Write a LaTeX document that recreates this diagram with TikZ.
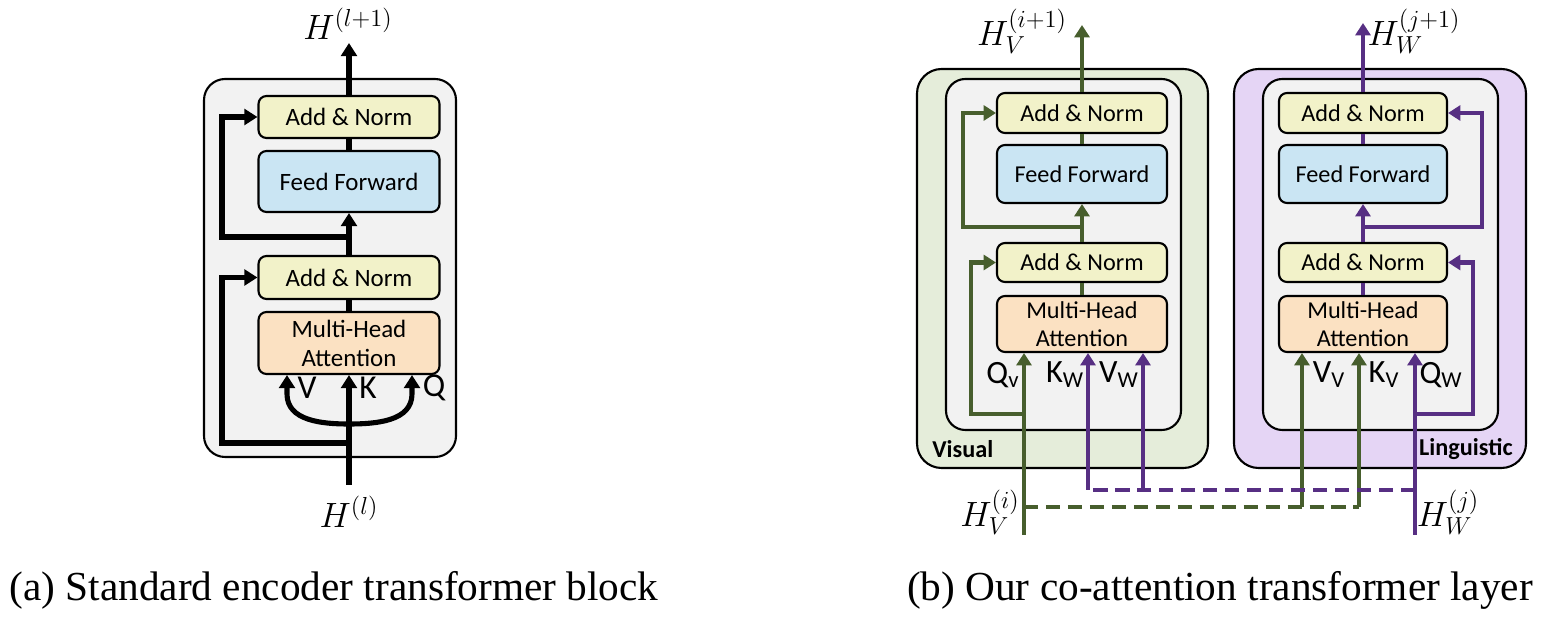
\RequirePackage{fix-cm}
\documentclass[tikz,border=0pt]{standalone}
\usepackage{fontspec}
\setmainfont{Liberation Serif}
\setsansfont{Carlito}
\usetikzlibrary{arrows.meta,positioning}
\definecolor{boxgray}{HTML}{F2F2F2}
\definecolor{anyellow}{HTML}{F2F2C9}
\definecolor{ffblue}{HTML}{CAE5F3}
\definecolor{mhapeach}{HTML}{FBE1C2}
\definecolor{visbg}{HTML}{E5EDDA}
\definecolor{lingbg}{HTML}{E5D5F5}
\definecolor{visline}{HTML}{475E2D}
\definecolor{lingline}{HTML}{572F83}
\tikzset{
  blk/.style={draw=black, line width=1.2pt, rounded corners=4.5pt, align=center, inner sep=0pt},
  addnorm/.style={blk, fill=anyellow},
  feedfwd/.style={blk, fill=ffblue},
  mhatt/.style={blk, fill=mhapeach},
  frame/.style={draw=black, line width=1.2pt},
  thickline/.style={line width=2.9pt},
  thickflow/.style={thickline, -{Triangle[length=7.5pt,width=9pt]}},
  gline/.style={line width=2.4pt, draw=visline},
  gflow/.style={gline, -{Triangle[length=7pt,width=8.5pt]}},
  pline/.style={line width=2.4pt, draw=lingline},
  pflow/.style={pline, -{Triangle[length=7pt,width=8.5pt]}},
  crossdash/.style={dash pattern=on 8pt off 4.5pt},
  qkv/.style={font=\sffamily\fontsize{19}{21}\selectfont, inner sep=0pt},
  qkvsub/.style={font=\sffamily\fontsize{18.5}{21}\selectfont, inner sep=0pt},
  hlabel/.style={font=\fontsize{20}{22}\selectfont, inner sep=0pt},
  caption/.style={font=\fontsize{23.5}{27}\selectfont, inner sep=0pt},
  stream/.style={font=\sffamily\bfseries\fontsize{13.8}{16}\selectfont, inner sep=0pt},
}
\begin{document}
\begin{tikzpicture}[x=0.02cm,y=-0.02cm]
\useasboundingbox (0,0) rectangle (1566,624);
% (a) standard block
\draw[frame, fill=boxgray, rounded corners=12pt] (204,79) rectangle (456,457);
\begin{scope}[font=\sffamily\fontsize{14.2}{16.5}\selectfont]
\node[addnorm, minimum width=3.62cm, minimum height=0.84cm] (an2) at (349,117) {Add \& Norm};
\node[feedfwd, minimum width=3.62cm, minimum height=1.22cm] (ff) at (349,181.5) {Feed Forward};
\node[addnorm, minimum width=3.62cm, minimum height=0.86cm] (an1) at (349,277.5) {Add \& Norm};
\node[mhatt, minimum width=3.62cm, minimum height=1.24cm] (mha) at (349,343) {Multi-Head\\Attention};
\end{scope}
\coordinate (hin) at (349,485);
\coordinate (hout) at (349,43);
\coordinate (sp1) at (349,443);
\coordinate (r1) at (222,443);
\coordinate (sp2) at (349,237);
\coordinate (r2) at (222,237);
\coordinate (cb) at (349,424);
\coordinate (cv) at (287,394);
\coordinate (cq) at (412,394);
\draw[thickflow] (hin) -- (mha.south);
\draw[thickflow] (cb) to[out=180,in=-90] (cv) -- (cv |- mha.south);
\draw[thickflow] (cb) to[out=0,in=-90] (cq) -- (cq |- mha.south);
\draw[thickflow] (sp1) -- (r1) |- (an1.west);
\draw[thickline] (mha.north) -- (an1.south);
\draw[thickflow] (an1.north) -- (ff.south);
\draw[thickflow] (sp2) -- (r2) |- (an2.west);
\draw[thickline] (ff.north) -- (an2.south);
\draw[thickflow] (an2.north) -- (hout);
\node[qkv] (lv) at (307,388) {V};
\node[qkv] (lk) at (368,388) {K};
\node[qkv] (lq) at (434,388) {Q};
\node[hlabel] (hl1) at (348,24) {$H^{(l+1)}$};
\node[hlabel] (hl) at (349,512) {$H^{(l)}$};
\node[caption] (capa) at (334,590) {(a) Standard encoder transformer block};
% (b) co-attention layer
\draw[frame, fill=visbg, rounded corners=14pt] (917,69) rectangle (1208,468);
\draw[frame, fill=boxgray, rounded corners=11pt] (946,79) rectangle (1181,430);
\draw[frame, fill=lingbg, rounded corners=14pt] (1234,69) rectangle (1526,468);
\draw[frame, fill=boxgray, rounded corners=11pt] (1263,79) rectangle (1498,430);
\begin{scope}[font=\sffamily\fontsize{13.8}{16}\selectfont]
\node[addnorm, minimum width=3.4cm, minimum height=0.8cm] (van2) at (1082,113) {Add \& Norm};
\node[feedfwd, minimum width=3.4cm, minimum height=1.16cm] (vff) at (1082,174) {Feed Forward};
\node[addnorm, minimum width=3.4cm, minimum height=0.78cm] (van1) at (1082,262.5) {Add \& Norm};
\node[mhatt, minimum width=3.4cm, minimum height=1.12cm] (vmha) at (1082,324) {Multi-Head\\Attention};
\node[addnorm, minimum width=3.36cm, minimum height=0.8cm] (lan2) at (1363,113) {Add \& Norm};
\node[feedfwd, minimum width=3.36cm, minimum height=1.16cm] (lff) at (1363,174) {Feed Forward};
\node[addnorm, minimum width=3.36cm, minimum height=0.78cm] (lan1) at (1363,262.5) {Add \& Norm};
\node[mhatt, minimum width=3.36cm, minimum height=1.12cm] (lmha) at (1363,324) {Multi-Head\\Attention};
\end{scope}
\node[stream, anchor=west] (vistxt) at (932,449) {Visual};
\node[stream, anchor=east] (lingtxt) at (1513,449) {Linguistic};
% visual stream
\coordinate (vin) at (1024,535);
\coordinate (vsp1) at (1024,414);
\coordinate (vr1) at (971,414);
\coordinate (vsp2) at (1082,227);
\coordinate (vr2) at (963,227);
\coordinate (vout) at (1082,25);
\coordinate (vdash) at (1024,507);
\coordinate (gv) at (1302,507);
\coordinate (gk) at (1359,507);
\draw[gline, crossdash] (vdash) -- (gk);
\draw[gflow] (gv) -- (gv |- lmha.south);
\draw[gflow] (gk) -- (gk |- lmha.south);
\draw[gflow] (vin) -- (vin |- vmha.south);
\draw[gflow] (vsp1) -- (vr1) |- (van1.west);
\draw[gline] (vmha.north) -- (van1.south);
\draw[gflow] (van1.north) -- (vff.south);
\draw[gflow] (vsp2) -- (vr2) |- (van2.west);
\draw[gline] (vff.north) -- (van2.south);
\draw[gflow] (van2.north) -- (vout);
% linguistic stream
\coordinate (lin) at (1415,535);
\coordinate (lsp1) at (1415,414);
\coordinate (lr1) at (1473,414);
\coordinate (lsp2) at (1363,227);
\coordinate (lr2) at (1482,227);
\coordinate (lout) at (1363,23);
\coordinate (ldash) at (1415,490);
\coordinate (pk) at (1088,490);
\coordinate (pv) at (1143,490);
\draw[pline, crossdash] (ldash) -- (pk);
\draw[pflow] (pk) -- (pk |- vmha.south);
\draw[pflow] (pv) -- (pv |- vmha.south);
\draw[pflow] (lin) -- (lin |- lmha.south);
\draw[pflow] (lsp1) -- (lr1) |- (lan1.east);
\draw[pline] (lmha.north) -- (lan1.south);
\draw[pflow] (lan1.north) -- (lff.south);
\draw[pflow] (lsp2) -- (lr2) |- (lan2.east);
\draw[pline] (lff.north) -- (lan2.south);
\draw[pflow] (lan2.north) -- (lout);
\node[qkvsub] (qv) at (1003,375) {Q\textsubscript{v}};
\node[qkvsub] (kw) at (1065,375) {K\textsubscript{W}};
\node[qkvsub] (vw) at (1119,375) {V\textsubscript{W}};
\node[qkvsub] (vv) at (1329,375) {V\textsubscript{V}};
\node[qkvsub] (kv) at (1384,375) {K\textsubscript{V}};
\node[qkvsub] (qw) at (1441,375) {Q\textsubscript{W}};
\node[hlabel] (hv1) at (1022,31) {$H_V^{(i+1)}$};
\node[hlabel] (hw1) at (1414,31) {$H_W^{(j+1)}$};
\node[hlabel] (hv) at (990,512) {$H_V^{(i)}$};
\node[hlabel] (hw) at (1448,512) {$H_W^{(j)}$};
\node[caption] (capb) at (1220,590) {(b) Our co-attention transformer layer};
\end{tikzpicture}
\end{document}
